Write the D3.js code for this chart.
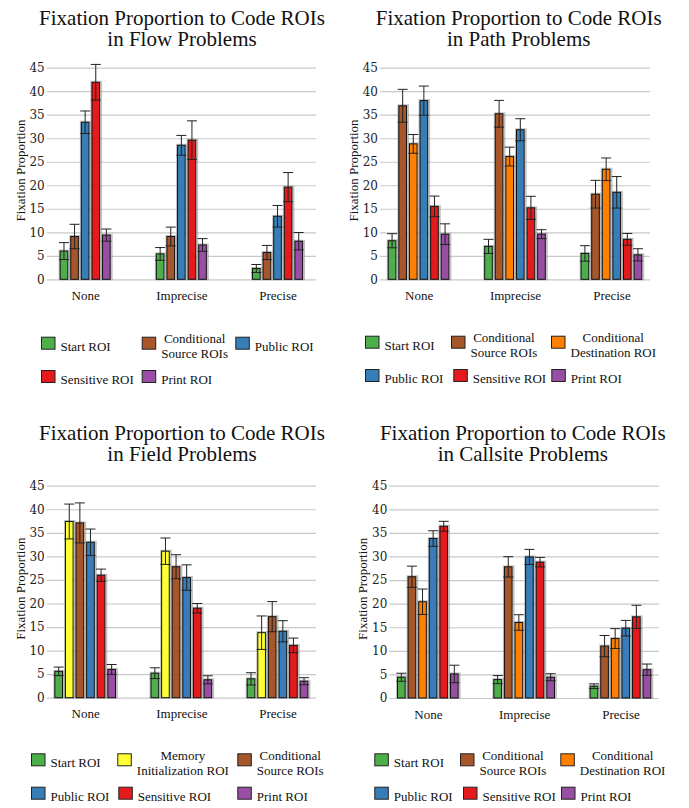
<!DOCTYPE html>
<html><head><meta charset="utf-8">
<script src="https://cdn.jsdelivr.net/npm/d3@7"></script>
<style>body{margin:0;background:#fff}</style>
</head><body><svg id="chart" width="689" height="808"></svg>
<script>
// ---------------- DATA ----------------
const categories = ["None", "Imprecise", "Precise"];
const yTicks = [0, 5, 10, 15, 20, 25, 30, 35, 40, 45];

const flowSeries = ["Start ROI", "Conditional Source ROIs", "Public ROI", "Sensitive ROI", "Print ROI"];
const flowMeans = [
  [6.0, 5.4, 2.3],
  [9.1, 9.1, 5.7],
  [33.4, 28.5, 13.4],
  [41.9, 29.6, 19.6],
  [9.4, 7.3, 8.1]
];
const flowErrors = [
  [1.8, 1.35, 0.85],
  [2.6, 2.0, 1.5],
  [2.4, 2.1, 2.3],
  [3.8, 4.1, 3.1],
  [1.3, 1.35, 1.85]
];

const pathSeries = ["Start ROI", "Conditional Source ROIs", "Conditional Destination ROI", "Public ROI", "Sensitive ROI", "Print ROI"];
const pathMeans = [
  [8.2, 7.0, 5.5],
  [36.9, 35.2, 18.1],
  [28.8, 26.1, 23.4],
  [38.0, 31.8, 18.5],
  [15.5, 15.2, 8.5],
  [9.6, 9.6, 5.2]
];
const pathErrors = [
  [1.5, 1.5, 1.65],
  [3.5, 2.85, 2.95],
  [2.0, 2.0, 2.4],
  [3.1, 2.35, 3.35],
  [2.2, 2.45, 1.25],
  [2.2, 0.95, 1.3]
];

const fieldSeries = ["Start ROI", "Memory Initialization ROI", "Conditional Source ROIs", "Public ROI", "Sensitive ROI", "Print ROI"];
const fieldMeans = [
  [5.6, 5.2, 4.0],
  [37.4, 31.1, 13.8],
  [37.1, 27.8, 17.2],
  [33.0, 25.5, 14.1],
  [26.0, 19.0, 11.1],
  [6.0, 3.8, 3.5]
];
const fieldErrors = [
  [0.9, 1.15, 1.3],
  [3.7, 2.8, 3.55],
  [4.25, 2.55, 3.2],
  [2.8, 2.7, 2.25],
  [1.3, 1.0, 1.55],
  [1.05, 0.85, 0.75]
];

const callsiteSeries = ["Start ROI", "Conditional Source ROIs", "Conditional Destination ROI", "Public ROI", "Sensitive ROI", "Print ROI"];
const callsiteMeans = [
  [4.4, 3.9, 2.5],
  [25.7, 27.8, 11.0],
  [20.4, 16.0, 12.6],
  [33.8, 29.9, 14.8],
  [36.4, 28.8, 17.2],
  [5.1, 4.4, 6.0]
];
const callsiteErrors = [
  [0.85, 0.85, 0.5],
  [2.25, 2.15, 2.25],
  [2.7, 1.65, 2.1],
  [1.65, 1.6, 1.65],
  [1.05, 1.0, 2.45],
  [1.85, 0.75, 1.2]
];

const seriesColors = {
  "Start ROI": "#4daf4a",
  "Memory Initialization ROI": "#ffff33",
  "Conditional Source ROIs": "#a65628",
  "Conditional Destination ROI": "#ff7f00",
  "Public ROI": "#377eb8",
  "Sensitive ROI": "#e41a1c",
  "Print ROI": "#984ea3"
};
const legendLines = {
  "Conditional Source ROIs": ["Conditional", "Source ROIs"],
  "Conditional Destination ROI": ["Conditional", "Destination ROI"],
  "Memory Initialization ROI": ["Memory", "Initialization ROI"]
};
const titleLine1 = "Fixation Proportion to Code ROIs";
const yLabel = "Fixation Proportion";

// ---------------- LAYOUT ----------------
const panels = [
  {title2: "in Flow Problems", series: flowSeries, means: flowMeans, errors: flowErrors,
   gl: 46.7, gr: 316, y0: 279.3, y45: 67.7, titleX: 182, titleY: 24.5,
   legRows: [[41, 141.7, 235.3], [41, 141.7]], legTops: [336.7, 370]},
  {title2: "in Path Problems", series: pathSeries, means: pathMeans, errors: pathErrors,
   gl: 380, gr: 650, y0: 279.3, y45: 67.7, titleX: 518.7, titleY: 24.5,
   legRows: [[365, 451, 551], [365, 453.3, 551.3]], legTops: [335.7, 369]},
  {title2: "in Field Problems", series: fieldSeries, means: fieldMeans, errors: fieldErrors,
   gl: 46.7, gr: 316, y0: 697.7, y45: 485.7, titleX: 182, titleY: 439.5,
   legRows: [[31, 117.3, 237.3], [31, 118.3, 237.3]], legTops: [753.3, 786.7]},
  {title2: "in Callsite Problems", series: callsiteSeries, means: callsiteMeans, errors: callsiteErrors,
   gl: 389.3, gr: 659, y0: 698, y45: 485.7, titleX: 522.8, titleY: 439.5,
   legRows: [[374.3, 460, 560.3], [374.3, 463, 561]], legTops: [753.3, 786.7]}
];

const svg = d3.select("#chart");
const serif = "'Liberation Serif','Times New Roman',serif";
const barStep = 10.6, barPadInner = 0.28;

panels.forEach(p => {
  const g = svg.append("g");
  // Title
  const t = g.append("text").attr("x", p.titleX).attr("y", p.titleY)
    .attr("text-anchor", "middle").style("font-family", serif).style("font-size", "21px").attr("fill", "#111");
  t.append("tspan").attr("x", p.titleX).attr("y", p.titleY).text(titleLine1);
  t.append("tspan").attr("x", p.titleX).attr("y", p.titleY + 21.2).text(p.title2);

  const y = d3.scaleLinear().domain([0, 45]).range([p.y0, p.y45]);
  const x0 = d3.scalePoint().domain(categories).range([p.gl, p.gr]).padding(0.4);
  const n = p.series.length;
  const gw = barStep * (n - barPadInner);
  const x1 = d3.scaleBand().domain(p.series).range([-gw / 2, gw / 2]).paddingInner(barPadInner).paddingOuter(0);

  // y axis with grid
  const ya = g.append("g").attr("transform", `translate(${p.gl},0)`)
    .call(d3.axisLeft(y).tickValues(yTicks).tickSize(-(p.gr - p.gl)).tickPadding(2));
  ya.select(".domain").remove();
  ya.selectAll(".tick line").attr("stroke", "#c8c8c8").attr("stroke-width", 1.2);
  ya.selectAll(".tick text").style("font-family", "'DejaVu Serif',serif").style("font-size", "12px").attr("fill", "#222");

  // x axis
  const xa = g.append("g").attr("transform", `translate(0,${p.y0})`)
    .call(d3.axisBottom(x0).tickSize(0).tickPadding(11.5));
  xa.select(".domain").remove();
  xa.selectAll(".tick text").style("font-family", serif).style("font-size", "13px").attr("fill", "#111");

  // y label
  g.append("text").attr("transform", `translate(${p.gl - 22},${(p.y0 + p.y45) / 2 - 3}) rotate(-90)`)
    .attr("text-anchor", "middle").style("font-family", serif).style("font-size", "13px").attr("fill", "#111")
    .text(yLabel);

  // bars
  const rows = [];
  p.series.forEach((s, si) => categories.forEach((c, ci) => rows.push({s, c, v: p.means[si][ci], e: p.errors[si][ci]})));
  const bw = x1.bandwidth();
  const bg = g.append("g");
  bg.selectAll("rect.sh").data(rows).join("rect").attr("class", "sh")
    .attr("x", d => x0(d.c) + x1(d.s) - 0.5).attr("y", d => y(d.v) - 0.5)
    .attr("width", bw + 2).attr("height", d => y(0) - y(d.v) + 0.5)
    .attr("fill", "none").attr("stroke", "#999").attr("stroke-opacity", 0.6).attr("stroke-width", 2);
  bg.selectAll("rect.bar").data(rows).join("rect").attr("class", "bar")
    .attr("x", d => x0(d.c) + x1(d.s)).attr("y", d => y(d.v))
    .attr("width", bw).attr("height", d => y(0) - y(d.v))
    .attr("fill", d => seriesColors[d.s]).attr("stroke", "#111").attr("stroke-width", 1);

  // error bars
  const eg = g.append("g").attr("stroke", "#222").attr("stroke-width", 1);
  rows.forEach(d => {
    const cx = x0(d.c) + x1(d.s) + bw / 2;
    const hw = 5;
    eg.append("line").attr("x1", cx).attr("x2", cx).attr("y1", y(d.v - d.e)).attr("y2", y(d.v + d.e));
    eg.append("line").attr("x1", cx - hw).attr("x2", cx + hw).attr("y1", y(d.v + d.e)).attr("y2", y(d.v + d.e));
    eg.append("line").attr("x1", cx - hw).attr("x2", cx + hw).attr("y1", y(d.v - d.e)).attr("y2", y(d.v - d.e));
  });

  // legend
  const lg = g.append("g");
  let idx = 0;
  p.legRows.forEach((row, ri) => {
    const top = p.legTops[ri];
    row.forEach(xs => {
      const s = p.series[idx++];
      lg.append("rect").attr("x", xs + 0.5).attr("y", top + 0.5).attr("width", 13.5).attr("height", 12)
        .attr("fill", seriesColors[s]).attr("stroke", "#222").attr("stroke-width", 1);
      const lines = legendLines[s];
      const tx = xs + 19.5;
      if (lines) {
        const tt = lg.append("text").style("font-family", serif).style("font-size", "13px").attr("fill", "#111");
        const spans = lines.map((l, li) => tt.append("tspan").attr("y", top + 6.5 + li * 15).text(l));
        const widths = spans.map(sp => sp.node().getComputedTextLength());
        const mw = Math.max(...widths);
        spans.forEach(sp => sp.attr("x", tx + mw / 2).attr("text-anchor", "middle"));
      } else {
        lg.append("text").attr("x", tx).attr("y", top + 14).style("font-family", serif).style("font-size", "13px")
          .attr("fill", "#111").text(s);
      }
    });
  });
});
</script>
</body></html>
